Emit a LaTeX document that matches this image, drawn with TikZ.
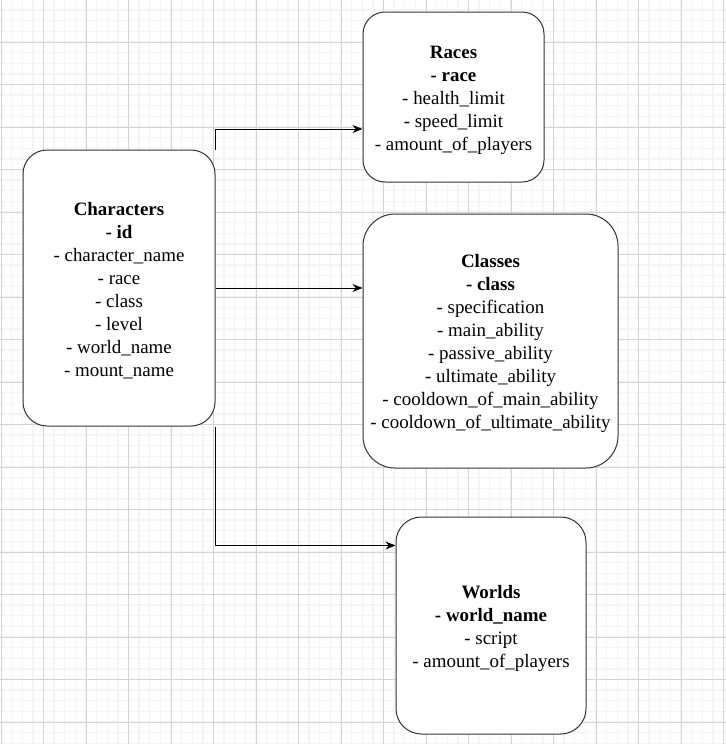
\documentclass[tikz,border=0pt]{standalone}
\usepackage{fontspec}
\setmainfont{Liberation Serif}
\usetikzlibrary{arrows.meta}
\definecolor{minorline}{HTML}{F4F4F4}
\definecolor{majorline}{HTML}{D3D3D3}
\definecolor{boxline}{HTML}{333333}
\newcommand{\tabtitle}[1]{\rule{0pt}{13.6pt}\textbf{#1}}
\tikzset{
  table/.style={draw=boxline, line width=0.75pt, fill=white, align=center, inner sep=0pt, font=\fontsize{14.2}{17.25}\selectfont},
  link/.style={-{Stealth[length=7.5pt, width=6pt]}, line width=0.75pt},
  minorgrid/.style={minorline, line width=1.1pt},
  majorgrid/.style={majorline, line width=0.75pt}
}

\begin{document}
\begin{tikzpicture}[x=0.75pt, y=-0.75pt]
  \useasboundingbox (0,0) rectangle (726,744);
  \fill[white] (0,0) rectangle (726,744);

  \foreach \gx in {11.625,22.25,...,724} \draw[minorgrid] (\gx,0) -- (\gx,744);
  \foreach \gy in {10.125,20.75,...,744} \draw[minorgrid] (0,\gy) -- (726,\gy);
  \foreach \gx in {1,43.5,...,724} \draw[majorgrid] (\gx,0) -- (\gx,744);
  \foreach \gy in {42,84.5,...,744} \draw[majorgrid] (0,\gy) -- (726,\gy);

  \node[table, minimum width=144pt, minimum height=207pt, rounded corners=18pt] (chars) at (119,288)
    {\tabtitle{Characters}\\\textbf{- id}\\- character\_name\\- race\\- class\\- level\\- world\_name\\- mount\_name};
  \node[table, minimum width=135.75pt, minimum height=127.5pt, rounded corners=16.5pt] (races) at (453.5,97)
    {\tabtitle{Races}\\\textbf{- race}\\- health\_limit\\- speed\_limit\\- amount\_of\_players};
  \node[table, minimum width=191.25pt, minimum height=190.5pt, rounded corners=24pt] (classes) at (490.5,341)
    {\tabtitle{Classes}\\\textbf{- class}\\- specification\\- main\_ability\\- passive\_ability\\- ultimate\_ability\\- cooldown\_of\_main\_ability\\- cooldown\_of\_ultimate\_ability};
  \node[table, minimum width=142.5pt, minimum height=162.75pt, rounded corners=19pt] (worlds) at (491,625.5)
    {\tabtitle{Worlds}\\\textbf{- world\_name}\\- script\\- amount\_of\_players};

  \draw[link] (chars.north east) |- ([yshift=-24pt]races.west);
  \draw[link] (chars.east) -- (chars.east -| classes.west);
  \draw[link] (chars.south east) |- ([yshift=-21.75pt]worlds.north west);
\end{tikzpicture}
\end{document}
